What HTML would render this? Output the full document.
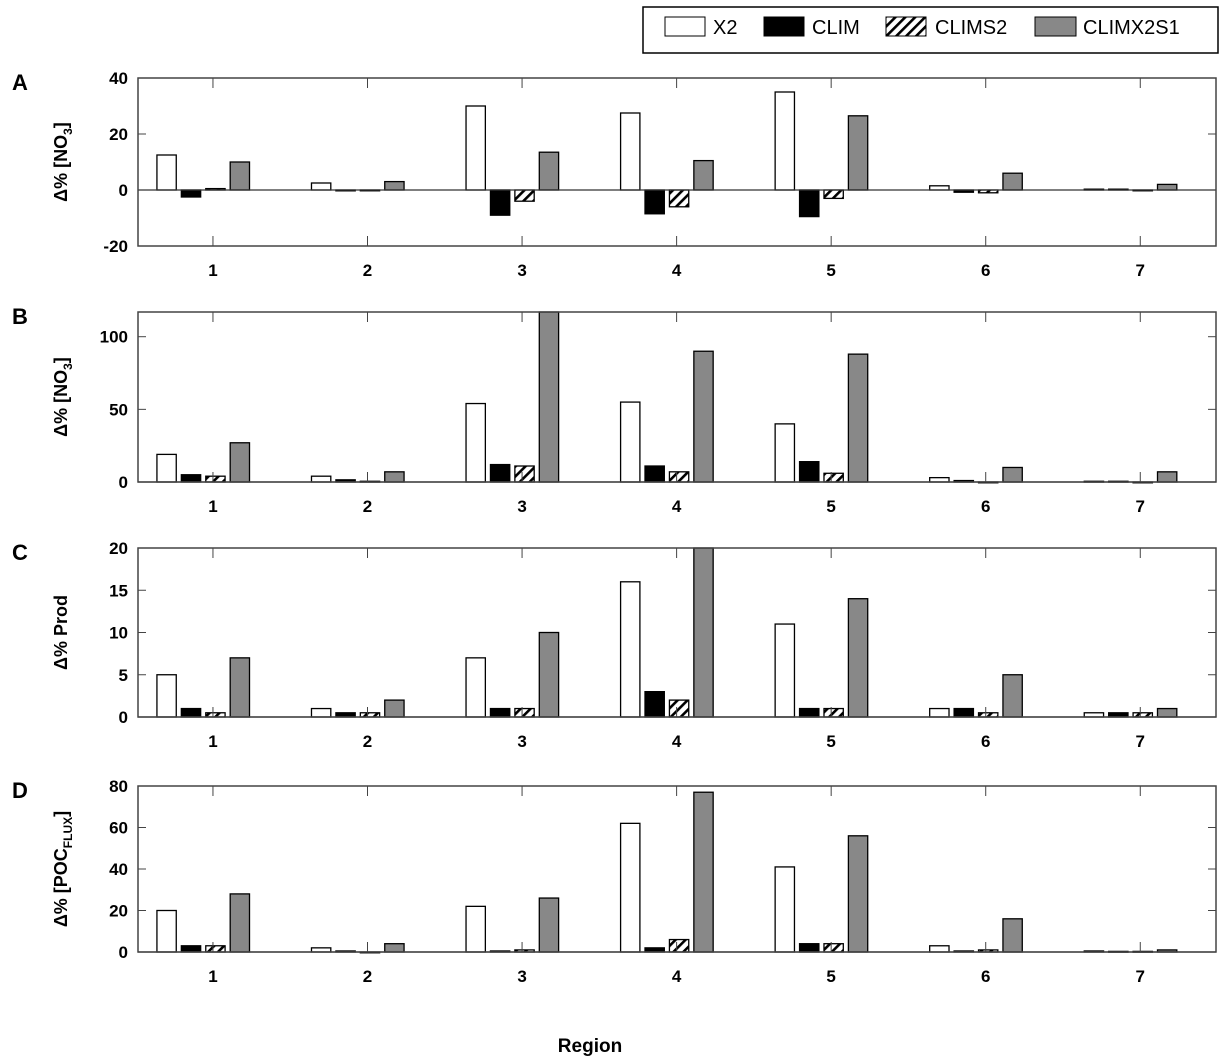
<!DOCTYPE html>
<html><head><meta charset="utf-8"><style>
body{margin:0;background:#fff;}
svg{display:block;font-family:"Liberation Sans",Arial,sans-serif;}
</style></head><body>
<svg id="chart" width="1220" height="1064" viewBox="0 0 1220 1064" xmlns="http://www.w3.org/2000/svg">
<defs>
<pattern id="hatch" patternUnits="userSpaceOnUse" width="7" height="7" patternTransform="rotate(45)">
<rect width="7" height="7" fill="#fff"/><rect width="2.6" height="7" fill="#000"/>
</pattern>
</defs>
<g>
<rect x="643" y="7" width="575" height="46" fill="#fff" stroke="#000" stroke-width="1.5"/>
<rect x="665" y="17" width="40" height="19" fill="#fff" stroke="#000"/>
<text x="713" y="34" font-size="20">X2</text>
<rect x="764" y="17" width="40" height="19" fill="#000" stroke="#000"/>
<text x="812" y="34" font-size="20">CLIM</text>
<rect x="886" y="17" width="40" height="19" fill="url(#hatch)" stroke="#000"/>
<text x="935" y="34" font-size="20">CLIMS2</text>
<rect x="1035" y="17" width="41" height="19" fill="#888" stroke="#000"/>
<text x="1083" y="34" font-size="20">CLIMX2S1</text>
</g>
<text x="590" y="1052" font-size="19" font-weight="bold" text-anchor="middle">Region</text>
</svg>
<script>
const regions = [1,2,3,4,5,6,7];
const seriesNames = ['X2','CLIM','CLIMS2','CLIMX2S1'];
// Panel A
const aX2 = [12.5,2.5,30,27.5,35,1.5,0.3];
const aCLIM = [-2.5,-0.3,-9,-8.5,-9.5,-0.8,0.3];
const aCLIMS2 = [0.5,-0.2,-4,-6,-3,-1,0];
const aCLIMX2S1 = [10,3,13.5,10.5,26.5,6,2];
const aTicks = [-20,0,20,40];
// Panel B
const bX2 = [19,4,54,55,40,3,0.5];
const bCLIM = [5,1.5,12,11,14,1,0.5];
const bCLIMS2 = [4,0.5,11,7,6,0,0];
const bCLIMX2S1 = [27,7,117,90,88,10,7];
const bTicks = [0,50,100];
// Panel C
const cX2 = [5,1,7,16,11,1,0.5];
const cCLIM = [1,0.5,1,3,1,1,0.5];
const cCLIMS2 = [0.5,0.5,1,2,1,0.5,0.5];
const cCLIMX2S1 = [7,2,10,20,14,5,1];
const cTicks = [0,5,10,15,20];
// Panel D
const dX2 = [20,2,22,62,41,3,0.5];
const dCLIM = [3,0.5,0.5,2,4,0.5,0.3];
const dCLIMS2 = [3,0,1,6,4,1,0.3];
const dCLIMX2S1 = [28,4,26,77,56,16,1];
const dTicks = [0,20,40,60,80];

const NS='http://www.w3.org/2000/svg';
const svg=document.getElementById('chart');
function mk(tag,attrs,parent){const e=document.createElementNS(NS,tag);for(const k in attrs)e.setAttribute(k,attrs[k]);(parent||svg).appendChild(e);return e;}
const L=138,R=1216,X0=0.515,X1=7.49;
function xs(v){return L+(v-X0)/(X1-X0)*(R-L);}
const fills=['#fff','#000','url(#hatch)','#888'];
const offs=[-0.3,-0.142,0.016,0.174];
const bw=0.125;

const panels=[
 {id:'a',letter:'A',top:78,bot:246,ymin:-20,ymax:40,ticks:aTicks,data:[aX2,aCLIM,aCLIMS2,aCLIMX2S1],title:'NO3'},
 {id:'b',letter:'B',top:312,bot:482,ymin:0,ymax:117,ticks:bTicks,data:[bX2,bCLIM,bCLIMS2,bCLIMX2S1],title:'NO3'},
 {id:'c',letter:'C',top:548,bot:717,ymin:0,ymax:20,ticks:cTicks,data:[cX2,cCLIM,cCLIMS2,cCLIMX2S1],title:'Prod'},
 {id:'d',letter:'D',top:786,bot:952,ymin:0,ymax:80,ticks:dTicks,data:[dX2,dCLIM,dCLIMS2,dCLIMX2S1],title:'POC'}
];
panels.forEach(p=>{
 const g=mk('g',{});
 
 
 const ys=v=>p.bot-(v-p.ymin)/(p.ymax-p.ymin)*(p.bot-p.top);
 const y0=ys(0);
 const lt=mk('text',{x:12,y:p.top+12,'font-size':22,'font-weight':'bold'},g);lt.textContent=p.letter;
 
 
 // y title
 const cy=(p.top+p.bot)/2;
 const yt=mk('text',{x:0,y:0,'font-size':18,'font-weight':'bold','text-anchor':'middle',transform:`translate(67,${cy}) rotate(-90)`},g);
 
 
 if(p.title==='NO3'){yt.innerHTML='Δ% [NO<tspan font-size="12" dy="5">3</tspan><tspan dy="-5">]</tspan>';}
 else if(p.title==='Prod'){yt.textContent='Δ% Prod';}
 else {yt.innerHTML='Δ% [POC<tspan font-size="12" dy="5">FLUX</tspan><tspan dy="-5">]</tspan>';}
 // y ticks
 p.ticks.forEach(t=>{
  const tx=mk('text',{x:128,y:ys(t)+6,'font-size':17,'font-weight':'bold','text-anchor':'end'},g);tx.textContent=t;
  
  
  mk('line',{x1:L,x2:L+8,y1:ys(t),y2:ys(t),stroke:'#444'},g);
  mk('line',{x1:R,x2:R-8,y1:ys(t),y2:ys(t),stroke:'#444'},g);
 });
 // bars
 p.data.forEach((arr,si)=>{
  arr.forEach((v,i)=>{
   const xc=xs(regions[i]+offs[si]);
   const w=xs(bw)-xs(0);
   const ya=ys(v);
   const r=mk('rect',{x:xc-w/2,y:Math.min(ya,y0),width:w,height:Math.max(Math.abs(ya-y0),0.8),fill:fills[si],stroke:'#000','stroke-width':1.3},g);
   
   
  });
 });
 // zero line
 mk('line',{x1:L,x2:R,y1:y0,y2:y0,stroke:'#333','stroke-width':1.3},g);
 // box
 const bx=mk('rect',{x:L,y:p.top,width:R-L,height:p.bot-p.top,fill:'none',stroke:'#444','stroke-width':1.5},g);
 
 
 regions.forEach(r=>{
  const x=xs(r);
  mk('line',{x1:x,x2:x,y1:p.bot,y2:p.bot-10,stroke:'#444'},g);
  mk('line',{x1:x,x2:x,y1:p.top,y2:p.top+10,stroke:'#444'},g);
  const tl=mk('text',{x:x,y:p.bot+30,'font-size':17,'font-weight':'bold','text-anchor':'middle'},g);tl.textContent=r;
  
  
 });
});
</script>
</body></html>
